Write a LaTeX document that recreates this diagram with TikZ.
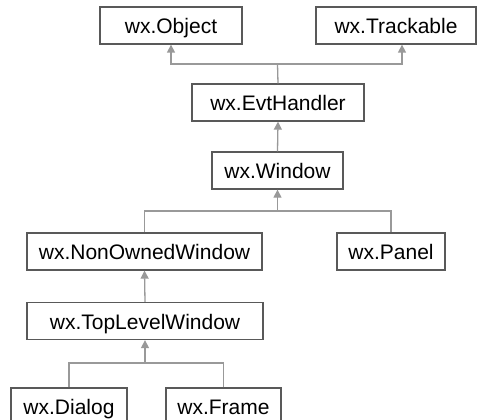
\documentclass[tikz,border=0pt]{standalone}
\usepackage{fontspec}
\setmainfont{Liberation Sans}
\usetikzlibrary{arrows.meta}
\begin{document}
\begin{tikzpicture}[x=1pt,y=-1pt,
  cls/.style={draw=black!65, line width=1.3pt, fill=white, minimum height=37pt, text height=17pt, text depth=1pt, inner sep=0pt, font=\fontsize{21}{24}\selectfont},
  conn/.style={draw=black!40, line width=1.3pt},
  inh/.style={conn, -{Triangle[length=8pt,width=8pt]}}]
\useasboundingbox[fill=white] (0,0) rectangle (477,420);
\node[cls, minimum width=142pt] (obj) at (171,25.5) {wx.Object};
\node[cls, minimum width=160pt] (trk) at (396,25.5) {wx.Trackable};
\node[cls, minimum width=172pt] (evt) at (278,102.5) {wx.EvtHandler};
\node[cls, minimum width=131pt] (win) at (277.5,170.5) {wx.Window};
\node[cls, minimum width=235pt] (now) at (144.5,251.5) {wx.NonOwnedWindow};
\node[cls, minimum width=108pt] (pnl) at (391,251.5) {wx.Panel};
\node[cls, minimum width=236pt] (tlw) at (145,321) {wx.TopLevelWindow};
\node[cls, minimum width=116pt] (dlg) at (69,406.5) {wx.Dialog};
\node[cls, minimum width=115pt] (frm) at (223.5,406.5) {wx.Frame};
\coordinate (j1) at (277.5,64);
\coordinate (j2) at (277.5,211);
\coordinate (j3) at (145,363);
\draw[conn] (evt.north) -- (j1);
\draw[inh] (j1) -| (obj.south);
\draw[inh] (j1) -| ([xshift=6pt]trk.south);
\draw[inh] (win.north) -- (evt.south);
\draw[conn] (now.north) |- (j2);
\draw[conn] (pnl.north) |- (j2);
\draw[inh] (j2) -- (win.south);
\draw[inh] (tlw.north) -- (now.south);
\draw[conn] (dlg.north) |- (j3);
\draw[conn] (frm.north) |- (j3);
\draw[inh] (j3) -- (tlw.south);
\end{tikzpicture}
\end{document}
